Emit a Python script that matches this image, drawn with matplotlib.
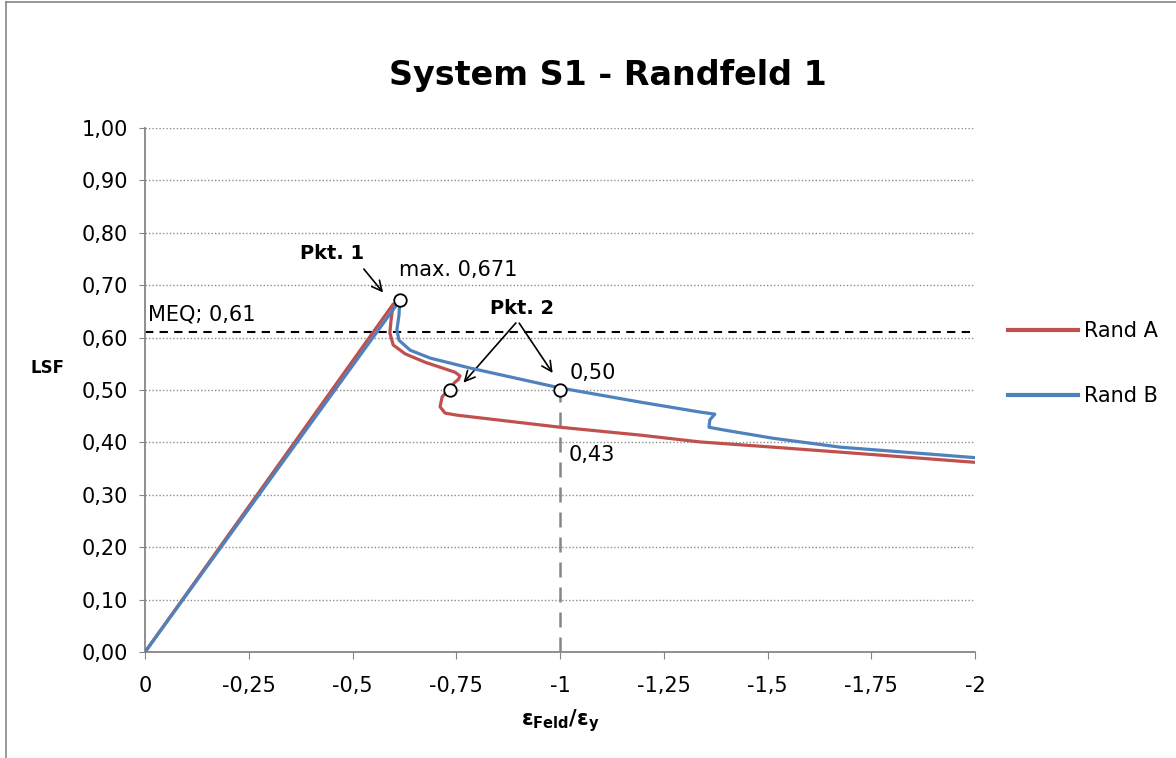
import matplotlib.pyplot as plt
from matplotlib.lines import Line2D

plt.rcParams['font.family'] = ['DejaVu Sans']

# curve data (x = eps_Feld / eps_y, y = LSF)
rand_a_x = [0.0, -0.598, -0.593, -0.590, -0.598, -0.627, -0.675, -0.747, -0.759, -0.755,
            -0.747, -0.716, -0.711, -0.723, -0.752, -1.0, -1.193, -1.337, -1.513, -1.70, -2.0]
rand_a_y = [0.0, 0.664, 0.634, 0.609, 0.586, 0.569, 0.553, 0.534, 0.527, 0.520,
            0.515, 0.487, 0.468, 0.456, 0.452, 0.429, 0.414, 0.401, 0.391, 0.380, 0.362]

rand_b_x = [0.0, -0.614, -0.612, -0.607, -0.612, -0.639, -0.687, -0.783, -1.0, -1.193,
            -1.337, -1.373, -1.361, -1.359, -1.393, -1.513, -1.675, -2.0]
rand_b_y = [0.0, 0.671, 0.643, 0.615, 0.595, 0.576, 0.561, 0.542, 0.504, 0.477,
            0.458, 0.454, 0.443, 0.429, 0.424, 0.408, 0.391, 0.371]

meq = 0.61
pkt_x = [-0.615, -0.735, -1.0]
pkt_y = [0.671, 0.50, 0.50]

x_ticks = [0, -0.25, -0.5, -0.75, -1, -1.25, -1.5, -1.75, -2]
x_labels = ['0', '-0,25', '-0,5', '-0,75', '-1', '-1,25', '-1,5', '-1,75', '-2']
y_ticks = [i / 10 for i in range(11)]
y_labels = [f"{v:.2f}".replace('.', ',') for v in y_ticks]

red = '#C0504D'
blue = '#4F81BD'
grey = '#868686'
fs = 15

fig = plt.figure(figsize=(11.76, 7.58), dpi=100)
ax = fig.add_axes([0.1233, 0.1398, 0.7058, 0.6913])

ax.plot(rand_a_x, rand_a_y, color=red, lw=2.3, label='Rand A', zorder=3, solid_joinstyle='round')
ax.plot(rand_b_x, rand_b_y, color=blue, lw=2.3, label='Rand B', zorder=4, solid_joinstyle='round')

ax.axhline(meq, color='black', lw=1.5, ls=(0, (4, 3)), zorder=2)
ax.plot([-1, -1], [0, 0.5], color=grey, lw=1.8, ls=(0, (6, 4)), zorder=2)
ax.plot(pkt_x, pkt_y, 'o', ms=9, mfc='white', mec='black', mew=1.3, ls='none', zorder=6)

ax.set_xlim(0, -2)
ax.set_ylim(0, 1)
ax.set_xticks(x_ticks)
ax.set_xticklabels(x_labels)
ax.set_yticks(y_ticks)
ax.set_yticklabels(y_labels)
ax.tick_params(axis='both', labelsize=fs, colors=grey, labelcolor='black')
ax.tick_params(axis='x', length=5, pad=12)
ax.tick_params(axis='y', length=4, pad=8)
ax.grid(axis='y', color='#8c8c8c', ls=(0, (1, 1.5)), lw=1.0)
for s in ['top', 'right']:
    ax.spines[s].set_visible(False)
for s in ['left', 'bottom']:
    ax.spines[s].set_color(grey)
    ax.spines[s].set_linewidth(1.3)
ax.set_axisbelow(True)

fig.text(608 / 1176, (758 - 75) / 758, 'System S1 - Randfeld 1', fontsize=24,
         fontweight='bold', ha='center', va='center')
ax.set_xlabel(r'$\mathbf{\varepsilon_{Feld}/\varepsilon_y}$', fontsize=15, labelpad=8)
fig.text(47 / 1176, (758 - 368) / 758, 'LSF', fontsize=12, fontweight='bold',
         ha='center', va='center')

# annotations
ax.text(-0.008, 0.645, 'MEQ; 0,61', fontsize=fs, ha='left', va='center')
ax.text(-0.612, 0.729, 'max. 0,671', fontsize=fs, ha='left', va='center')
ax.text(-1.022, 0.532, '0,50', fontsize=fs, ha='left', va='center')
ax.text(-1.02, 0.376, '0,43', fontsize=fs, ha='left', va='center')

ax.text(-0.45, 0.761, 'Pkt. 1', fontsize=14, fontweight='bold', ha='center', va='center')
ax.annotate('', xy=(-0.578, 0.682), xytext=(-0.523, 0.735),
            arrowprops=dict(arrowstyle='->', color='black', lw=1.2, mutation_scale=18))
ax.text(-0.908, 0.656, 'Pkt. 2', fontsize=14, fontweight='bold', ha='center', va='center')
for tx, ty in [(-0.763, 0.51), (-0.986, 0.528)]:
    ax.annotate('', xy=(tx, ty), xytext=(-0.898, 0.632),
                arrowprops=dict(arrowstyle='->', color='black', lw=1.2, mutation_scale=18))

handles = [Line2D([], [], color=red, lw=3), Line2D([], [], color=blue, lw=3)]
fig.legend(handles, ['Rand A', 'Rand B'], loc='center left', bbox_to_anchor=(0.841, 0.5205),
           frameon=False, fontsize=fs, handlelength=3.37, labelspacing=2.15, handletextpad=0.3)

# chart border (as in the spreadsheet export)
fig.add_artist(Line2D([0.005, 0.005], [0, 0.997], transform=fig.transFigure, color=grey, lw=1.2))
fig.add_artist(Line2D([0.005, 1], [0.997, 0.997], transform=fig.transFigure, color=grey, lw=1.2))

fig.savefig('out.png', dpi=100)
